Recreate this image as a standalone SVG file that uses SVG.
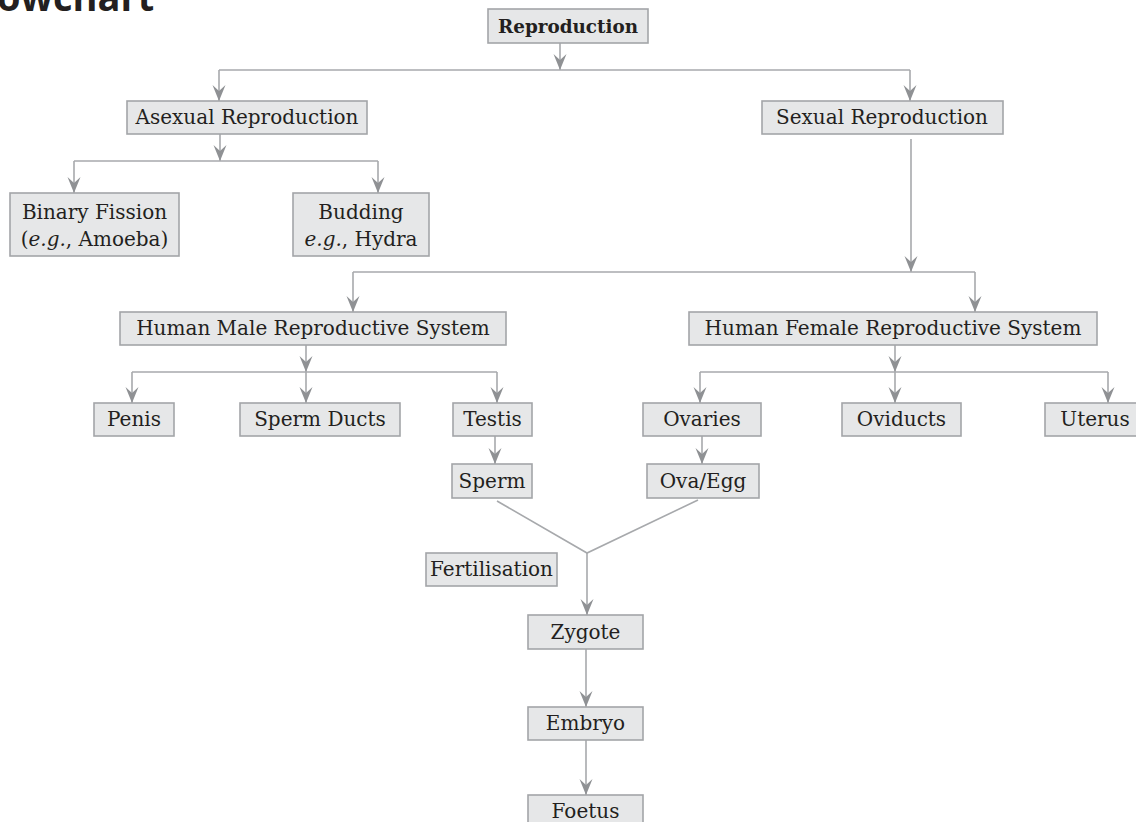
<svg xmlns="http://www.w3.org/2000/svg" width="1136" height="822" viewBox="0 0 1136 822">
  <style>
    .box { fill: #e6e7e8; stroke: #a3a5a8; stroke-width: 1.6; }
    .lbl { font-family: "DejaVu Serif", "Liberation Serif", serif; font-size: 20px; fill: #231f20; text-anchor: middle; }
    .bold { font-weight: bold; font-size: 19px; }
    .it { font-style: italic; }
    .wire { fill: none; stroke: #a7a9ac; stroke-width: 1.6; }
    .arr { fill: none; stroke: #a7a9ac; stroke-width: 1.6; marker-end: url(#head); }
    .title { font-family: "Open Sans", "Liberation Sans", sans-serif; font-weight: bold; font-size: 38px; fill: #231f20; }
  </style>
  <defs>
    <marker id="head" viewBox="-16 -7 17 14" markerUnits="userSpaceOnUse" markerWidth="17" markerHeight="14" refX="0" refY="0" orient="auto">
      <path d="M0,0 L-16,-6.5 L-10,0 L-16,6.5 Z" fill="#8f9194"/>
    </marker>
  </defs>

  <rect width="1136" height="822" fill="#ffffff"/>

  <!-- heading, clipped by the top edge -->
  <text class="title" x="-3" y="11">owchart</text>

  <!-- connectors -->
  <g id="connectors">
    <path class="arr" d="M560,43 V70"/>
    <path class="wire" d="M219,70 H910"/>
    <path class="arr" d="M219,70 V101"/>
    <path class="arr" d="M910,70 V101"/>

    <path class="arr" d="M220,134 V161"/>
    <path class="wire" d="M74,161 H378"/>
    <path class="arr" d="M74,161 V193"/>
    <path class="arr" d="M378,161 V193"/>

    <path class="arr" d="M911,139 V272"/>
    <path class="wire" d="M353,272 H975"/>
    <path class="arr" d="M353,272 V312"/>
    <path class="arr" d="M975,272 V312"/>

    <path class="arr" d="M306,345 V372"/>
    <path class="wire" d="M132,372 H497"/>
    <path class="arr" d="M132,372 V403"/>
    <path class="arr" d="M306,372 V403"/>
    <path class="arr" d="M497,372 V403"/>

    <path class="arr" d="M895,345 V372"/>
    <path class="wire" d="M700,372 H1108"/>
    <path class="arr" d="M700,372 V403"/>
    <path class="arr" d="M895,372 V403"/>
    <path class="arr" d="M1108,372 V403"/>

    <path class="arr" d="M495,436 V464"/>
    <path class="arr" d="M702,436 V464"/>

    <path class="wire" d="M497,501 L587,553 L698,500"/>
    <path class="arr" d="M587,553 V615"/>
    <path class="arr" d="M586,649 V707"/>
    <path class="arr" d="M586,740 V795"/>
  </g>

  <g id="reproduction">
    <rect class="box" x="488" y="9" width="160" height="34"/>
    <text class="lbl bold" x="568" y="33" textLength="140" lengthAdjust="spacingAndGlyphs">Reproduction</text>
  </g>
  <g id="asexual">
    <rect class="box" x="127" y="101" width="240" height="33"/>
    <text class="lbl" x="247" y="124">Asexual Reproduction</text>
  </g>
  <g id="sexual">
    <rect class="box" x="762" y="101" width="241" height="33"/>
    <text class="lbl" x="882" y="124">Sexual Reproduction</text>
  </g>
  <g id="binary-fission">
    <rect class="box" x="10" y="193" width="169" height="63"/>
    <text class="lbl" x="94.5" y="219">Binary Fission</text>
    <text class="lbl" x="94.5" y="246">(<tspan class="it">e.g.</tspan>, Amoeba)</text>
  </g>
  <g id="budding">
    <rect class="box" x="293" y="193" width="136" height="63"/>
    <text class="lbl" x="361" y="219">Budding</text>
    <text class="lbl" x="361" y="246"><tspan class="it">e.g.</tspan>, Hydra</text>
  </g>
  <g id="male-system">
    <rect class="box" x="120" y="312" width="386" height="33"/>
    <text class="lbl" x="313" y="335">Human Male Reproductive System</text>
  </g>
  <g id="female-system">
    <rect class="box" x="689" y="312" width="408" height="33"/>
    <text class="lbl" x="893" y="335">Human Female Reproductive System</text>
  </g>
  <g id="penis">
    <rect class="box" x="94" y="403" width="80" height="33"/>
    <text class="lbl" x="134" y="426">Penis</text>
  </g>
  <g id="sperm-ducts">
    <rect class="box" x="240" y="403" width="160" height="33"/>
    <text class="lbl" x="320" y="426">Sperm Ducts</text>
  </g>
  <g id="testis">
    <rect class="box" x="453" y="403" width="79" height="33"/>
    <text class="lbl" x="492.5" y="426">Testis</text>
  </g>
  <g id="ovaries">
    <rect class="box" x="643" y="403" width="118" height="33"/>
    <text class="lbl" x="702" y="426">Ovaries</text>
  </g>
  <g id="oviducts">
    <rect class="box" x="842" y="403" width="119" height="33"/>
    <text class="lbl" x="901.5" y="426">Oviducts</text>
  </g>
  <g id="uterus">
    <rect class="box" x="1045" y="403" width="100" height="33"/>
    <text class="lbl" x="1095" y="426">Uterus</text>
  </g>
  <g id="sperm">
    <rect class="box" x="452" y="464" width="80" height="34"/>
    <text class="lbl" x="492" y="488">Sperm</text>
  </g>
  <g id="ova-egg">
    <rect class="box" x="647" y="464" width="112" height="34"/>
    <text class="lbl" x="703" y="488">Ova/Egg</text>
  </g>
  <g id="fertilisation">
    <rect class="box" x="426" y="553" width="131" height="33"/>
    <text class="lbl" x="491.5" y="576">Fertilisation</text>
  </g>
  <g id="zygote">
    <rect class="box" x="528" y="615" width="115" height="34"/>
    <text class="lbl" x="585.5" y="639">Zygote</text>
  </g>
  <g id="embryo">
    <rect class="box" x="528" y="707" width="115" height="33"/>
    <text class="lbl" x="585.5" y="730">Embryo</text>
  </g>
  <g id="foetus">
    <rect class="box" x="528" y="795" width="115" height="35"/>
    <text class="lbl" x="585.5" y="818">Foetus</text>
  </g>
</svg>
